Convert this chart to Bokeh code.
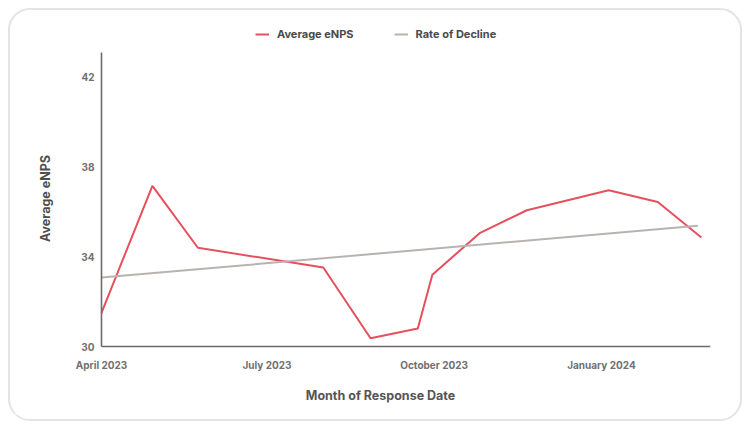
import math
import pandas as pd
from bokeh.plotting import figure
from bokeh.models import Range1d, FixedTicker, Legend, LegendItem, Label
from bokeh.embed import file_html
from bokeh.resources import INLINE

# ---- data ----
response_months = ["2023-04-01", "2023-04-29", "2023-05-24", "2023-08-01", "2023-08-27",
                   "2023-09-22", "2023-09-30", "2023-10-26", "2023-11-21", "2024-01-05",
                   "2024-02-01", "2024-02-25"]
average_enps = [31.5, 37.16, 34.4, 33.52, 30.37, 30.8, 33.2, 35.05, 36.07, 36.96, 36.44, 34.86]
trend_months = ["2023-04-01", "2024-02-23"]
trend_values = [33.07, 35.38]
x_tick_dates = ["2023-04-01", "2023-07-01", "2023-10-01", "2024-01-01"]
x_tick_labels = ["April 2023", "July 2023", "October 2023", "January 2024"]
y_ticks = [30, 34, 38, 42]
x_start, x_end = "2023-04-01", "2024-03-01"
y_start, y_end = 30, 43.1

FONT = "Inter"

# layout (pixels): frame spans x 15..710, y 20..414; axes span x 101..710, y 52..346
W, H = 750, 429
FRAME_LEFT, FRAME_RIGHT, FRAME_TOP, FRAME_BOTTOM = 15, 710, 20, 414
AXIS_LEFT, AXIS_TOP, AXIS_BOTTOM = 101, 52, 346
ppu = (AXIS_BOTTOM - AXIS_TOP) / (y_end - y_start)
yr_start = y_start - (FRAME_BOTTOM - AXIS_BOTTOM) / ppu
yr_end = y_end + (AXIS_TOP - FRAME_TOP) / ppu
t0, t1 = pd.Timestamp(x_start), pd.Timestamp(x_end)
t0_ms, t1_ms = t0.timestamp() * 1000, t1.timestamp() * 1000
ppms = (FRAME_RIGHT - AXIS_LEFT) / (t1_ms - t0_ms)
xr_start_ms = t0_ms - (AXIS_LEFT - FRAME_LEFT) / ppms

p = figure(width=W, height=H, x_axis_type="datetime",
           x_range=Range1d(xr_start_ms, t1_ms),
           y_range=Range1d(yr_start, yr_end),
           output_backend="svg", toolbar_location=None,
           min_border_left=FRAME_LEFT, min_border_right=W - FRAME_RIGHT,
           min_border_top=FRAME_TOP, min_border_bottom=H - FRAME_BOTTOM)
p.styles = {"outline": "2px solid #e4e4e4", "outline-offset": "-10px", "border-radius": "30px"}
p.outline_line_color = None
p.background_fill_color = "white"
p.border_fill_color = None
p.xgrid.grid_line_color = None
p.ygrid.grid_line_color = None

r1 = p.line(pd.to_datetime(response_months), average_enps, line_color="#e5505c", line_width=2)
r2 = p.line(pd.to_datetime(trend_months), trend_values, line_color="#b8b3b1", line_width=2)

tick_ms = [pd.Timestamp(d).timestamp() * 1000 for d in x_tick_dates]
p.xaxis.ticker = FixedTicker(ticks=tick_ms)
p.xaxis.major_label_overrides = {t: lab for t, lab in zip(tick_ms, x_tick_labels)}
p.xaxis.fixed_location = y_start
p.xaxis.bounds = (t0_ms, t1_ms)
p.yaxis.ticker = FixedTicker(ticks=y_ticks)
p.yaxis.fixed_location = t0_ms
p.yaxis.bounds = (y_start, y_end)

for ax in (p.xaxis, p.yaxis):
    ax.axis_line_color = "#6f6a69"
    ax.axis_line_width = 1.6
    ax.major_tick_line_color = None
    ax.minor_tick_line_color = None
    ax.major_tick_out = 0
    ax.major_tick_in = 0
    ax.major_label_text_font = FONT
    ax.major_label_text_font_size = "10px"
    ax.major_label_text_font_style = "bold"
    ax.major_label_text_color = "#707070"

p.xaxis.major_label_standoff = 12
p.yaxis.major_label_standoff = 7

ytitle = Label(x=45 - FRAME_LEFT, y=FRAME_BOTTOM - 198, x_units="screen", y_units="screen",
               text="Average eNPS", angle=math.pi / 2,
               text_font=FONT, text_font_size="12.5px", text_font_style="bold",
               text_color="#4d4d4d", text_align="center", text_baseline="middle")
p.add_layout(ytitle)

xtitle = Label(x=380 - FRAME_LEFT, y=FRAME_BOTTOM - 395, x_units="screen", y_units="screen",
               text="Month of Response Date",
               text_font=FONT, text_font_size="12.5px", text_font_style="bold",
               text_color="#555555", text_align="center", text_baseline="middle")
p.add_layout(xtitle)

legend = Legend(items=[LegendItem(label="Average eNPS", renderers=[r1]),
                       LegendItem(label="Rate of Decline", renderers=[r2])],
                orientation="horizontal", location=(255 - FRAME_LEFT, FRAME_BOTTOM - 41),
                padding=0, margin=0, spacing=40, label_standoff=8,
                glyph_width=14, glyph_height=12, label_height=12,
                border_line_color=None, background_fill_alpha=0,
                label_text_font=FONT, label_text_font_size="11px",
                label_text_font_style="bold", label_text_color="#4a4a4a")
p.add_layout(legend)

open("out.html", "w").write(file_html(p, INLINE))
